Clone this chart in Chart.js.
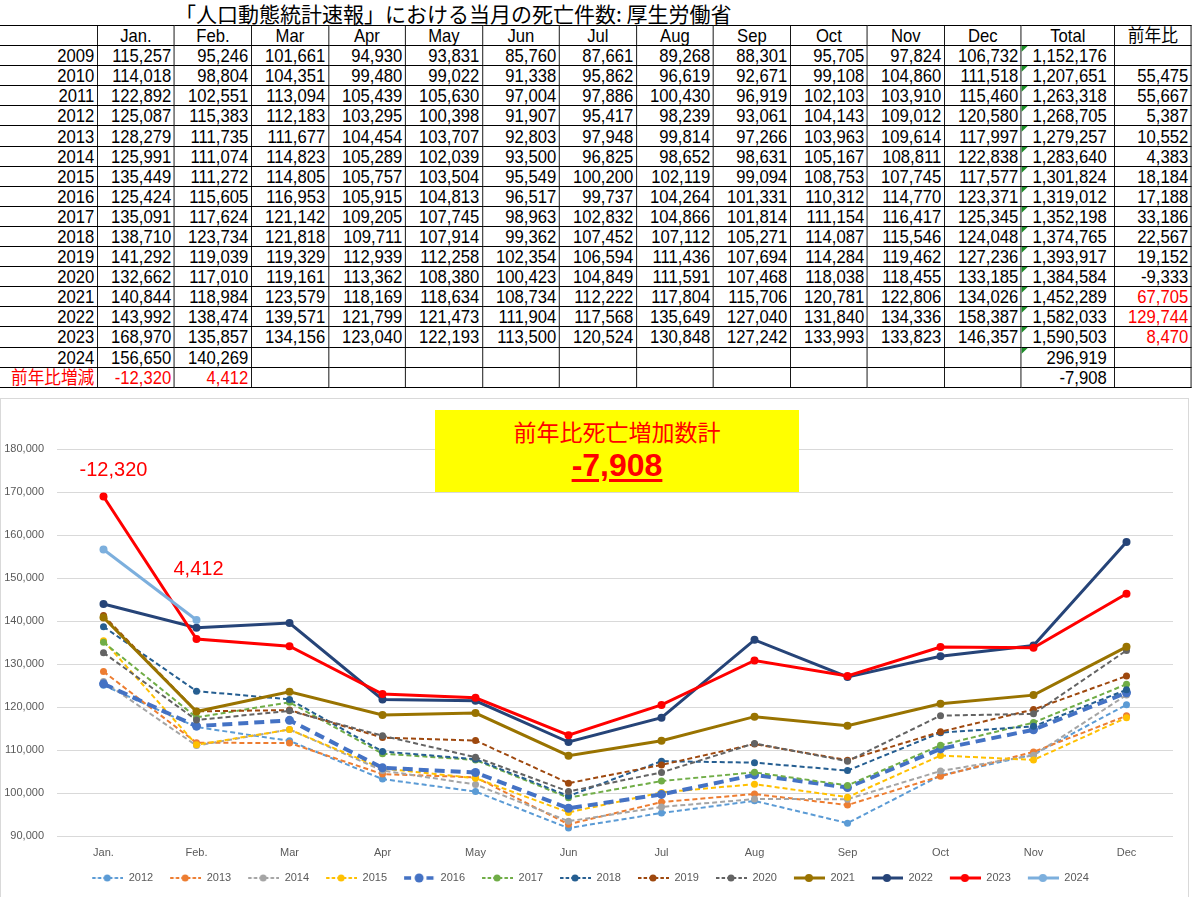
<!DOCTYPE html>
<html lang="ja">
<head>
<meta charset="utf-8">
<title>人口動態統計速報 死亡件数</title>
<script src="https://cdn.jsdelivr.net/npm/chart.js@4.4.1/dist/chart.umd.min.js"></script>
<style>
  html, body { margin: 0; padding: 0; background: #fff; }
  body { width: 1192px; height: 897px; position: relative; overflow: hidden;
         font-family: "Liberation Sans", Arial, "Noto Sans CJK JP", sans-serif; }
  #page-title { position: absolute; left: 175px; top: 1px; height: 24px; line-height: 24px;
                font-family: "Noto Sans CJK JP", sans-serif; font-size: 21px; white-space: nowrap; }
  /* the sheet text is a bit narrow: lay the table out wider and squeeze it horizontally */
  #deaths-table { position: absolute; left: -1px; top: 25px; border-collapse: collapse;
                  table-layout: fixed; font-size: 18.5px; transform: scaleX(0.9); transform-origin: 0 0; }
  #deaths-table td { border: 1px solid #000; height: 19.1px; line-height: 19px; padding: 0 3px;
                     text-align: right; white-space: nowrap; overflow: hidden; position: relative; }
  #deaths-table tr.head td { text-align: center; }
  #deaths-table td.total { padding-right: 8px; }
  #deaths-table td.red { color: #ff0000; }
  #deaths-table td.tri::before { content: ''; position: absolute; left: 0; top: 0;
                     border-top: 6px solid #1f8f2a; border-right: 7px solid transparent; }
  #chart-frame { position: absolute; left: 0; top: 398px; width: 1189px; height: 505px;
                 border: 1px solid #d9d9d9; box-sizing: border-box; }
  #chart-wrap { position: absolute; left: 0; top: 399px; width: 1190px; height: 498px; }
  #sum-box { position: absolute; left: 435px; top: 410px; width: 364px; height: 82px;
             background: #ffff00; color: #ff0000; text-align: center; z-index: 2; }
  #sum-box .cap { font-family: "Noto Sans CJK JP", sans-serif; font-size: 23px; line-height: 26px; margin-top: 8px; }
  #sum-box .num { font-size: 32px; font-weight: bold; line-height: 36px; margin-top: 3px;
                  text-decoration: underline; text-underline-offset: 3px; }
</style>
</head>
<body>
<div id="page-title">「人口動態統計速報」における当月の死亡件数: 厚生労働省</div>
<table id="deaths-table"></table>
<div id="chart-frame"></div>
<div id="chart-wrap"><canvas id="chart_deaths"></canvas></div>
<div id="sum-box"><div class="cap">前年比死亡増加数計</div><div class="num" id="sum-num"></div></div>
<script>
// month labels (table header and x axis)
const months = ['Jan.', 'Feb.', 'Mar', 'Apr', 'May', 'Jun', 'Jul', 'Aug', 'Sep', 'Oct', 'Nov', 'Dec'];

// monthly deaths per year
const d2009 = [115257, 95246, 101661, 94930, 93831, 85760, 87661, 89268, 88301, 95705, 97824, 106732];
const d2010 = [114018, 98804, 104351, 99480, 99022, 91338, 95862, 96619, 92671, 99108, 104860, 111518];
const d2011 = [122892, 102551, 113094, 105439, 105630, 97004, 97886, 100430, 96919, 102103, 103910, 115460];
const d2012 = [125087, 115383, 112183, 103295, 100398, 91907, 95417, 98239, 93061, 104143, 109012, 120580];
const d2013 = [128279, 111735, 111677, 104454, 103707, 92803, 97948, 99814, 97266, 103963, 109614, 117997];
const d2014 = [125991, 111074, 114823, 105289, 102039, 93500, 96825, 98652, 98631, 105167, 108811, 122838];
const d2015 = [135449, 111272, 114805, 105757, 103504, 95549, 100200, 102119, 99094, 108753, 107745, 117577];
const d2016 = [125424, 115605, 116953, 105915, 104813, 96517, 99737, 104264, 101331, 110312, 114770, 123371];
const d2017 = [135091, 117624, 121142, 109205, 107745, 98963, 102832, 104866, 101814, 111154, 116417, 125345];
const d2018 = [138710, 123734, 121818, 109711, 107914, 99362, 107452, 107112, 105271, 114087, 115546, 124048];
const d2019 = [141292, 119039, 119329, 112939, 112258, 102354, 106594, 111436, 107694, 114284, 119462, 127236];
const d2020 = [132662, 117010, 119161, 113362, 108380, 100423, 104849, 111591, 107468, 118038, 118455, 133185];
const d2021 = [140844, 118984, 123579, 118169, 118634, 108734, 112222, 117804, 115706, 120781, 122806, 134026];
const d2022 = [143992, 138474, 139571, 121799, 121473, 111904, 117568, 135649, 127040, 131840, 134336, 158387];
const d2023 = [168970, 135857, 134156, 123040, 122193, 113500, 120524, 130848, 127242, 133993, 133823, 146357];
const d2024 = [156650, 140269];

const years = [2009, 2010, 2011, 2012, 2013, 2014, 2015, 2016, 2017, 2018, 2019, 2020, 2021, 2022, 2023, 2024];
const yearRows = [d2009, d2010, d2011, d2012, d2013, d2014, d2015, d2016, d2017, d2018, d2019, d2020, d2021, d2022, d2023, d2024];

// yearly totals and change vs previous year, as printed
const totals = [1152176, 1207651, 1263318, 1268705, 1279257, 1283640, 1301824, 1319012, 1352198, 1374765, 1393917, 1384584, 1452289, 1582033, 1590503, 296919];
const yoyTotal = [null, 55475, 55667, 5387, 10552, 4383, 18184, 17188, 33186, 22567, 19152, -9333, 67705, 129744, 8470, null];
const yoyRed = [2021, 2022, 2023];

// 前年比増減 row: this year minus last year for the months so far
const monthDiff = [-12320, 4412];
const monthDiffTotal = -7908;

// years drawn in the chart
const chartYears = [2012, 2013, 2014, 2015, 2016, 2017, 2018, 2019, 2020, 2021, 2022, 2023, 2024];

const fmt = (v) => v.toLocaleString('en-US');

// ---- table ----
const SQUEEZE = 0.9;
const build_table = () => {
    const tbl = document.getElementById('deaths-table');
    const widths = [98].concat(months.map(() => 77)).concat([93, 77]);
    tbl.style.width = (widths.reduce((a, b) => a + b, 0) / SQUEEZE) + 'px';
    const cg = document.createElement('colgroup');
    widths.forEach(w => { const c = document.createElement('col'); c.style.width = (w / SQUEEZE) + 'px'; cg.appendChild(c); });
    tbl.appendChild(cg);

    const addRow = (cells, cls) => {
        const tr = document.createElement('tr');
        if (cls) tr.className = cls;
        cells.forEach(([txt, c]) => {
            const td = document.createElement('td');
            td.textContent = txt;
            if (c) td.className = c;
            tr.appendChild(td);
        });
        tbl.appendChild(tr);
    };

    addRow([['', '']].concat(months.map(m => [m, ''])).concat([['Total', ''], ['前年比', '']]), 'head');
    years.forEach((yr, i) => {
        const row = yearRows[i];
        const cells = [[String(yr), '']];
        months.forEach((m, j) => cells.push([row[j] !== undefined ? fmt(row[j]) : '', '']));
        cells.push([fmt(totals[i]), 'total tri']);
        const y = yoyTotal[i];
        cells.push([y === null ? '' : fmt(y), yoyRed.includes(yr) ? 'red' : '']);
        addRow(cells);
    });
    const last = [['前年比増減', 'red']];
    months.forEach((m, j) => last.push([monthDiff[j] !== undefined ? fmt(monthDiff[j]) : '', 'red']));
    last.push([fmt(monthDiffTotal), 'total']);
    last.push(['', '']);
    addRow(last);
};
build_table();
document.getElementById('sum-num').textContent = fmt(monthDiffTotal);

// ---- chart ----
const seriesColors = ['#5B9BD5', '#ED7D31', '#A5A5A5', '#FFC000', '#4472C4', '#70AD47', '#255E91',
                      '#9E480E', '#636363', '#997300', '#264478', '#FF0000', '#7CAFDD'];

const styleFor = (yr) => {
    if (yr === 2016) return { width: 4, dash: [10, 6], radius: 4.5 };
    if (yr <= 2020) return { width: 2, dash: [5, 3], radius: 3.5 };
    return { width: 3, dash: [], radius: 4 };
};

// legend swatch: line + marker on the right part of a wider canvas
// (the blank left part gives the spacing between legend items)
const SW = 45;
const legendSwatch = (color, st) => {
    const c = document.createElement('canvas');
    c.width = SW; c.height = 12;
    const g = c.getContext('2d');
    g.strokeStyle = color;
    g.lineWidth = Math.min(st.width, 3.5);
    g.setLineDash(st.dash.length ? [st.dash[0] * 0.7, st.dash[1] * 0.7] : []);
    g.beginPath(); g.moveTo(SW - 31, 6); g.lineTo(SW, 6); g.stroke();
    g.setLineDash([]);
    g.fillStyle = color;
    g.beginPath(); g.arc(SW - 16, 6, st.radius, 0, Math.PI * 2); g.fill();
    return c;
};

const datasets = chartYears.map((yr, i) => {
    const st = styleFor(yr);
    return {
        label: String(yr),
        data: yearRows[years.indexOf(yr)],
        borderColor: seriesColors[i],
        backgroundColor: seriesColors[i],
        borderWidth: st.width,
        borderDash: st.dash,
        pointRadius: st.radius,
        pointBackgroundColor: seriesColors[i],
        pointBorderColor: seriesColors[i],
        pointBorderWidth: 0,
        tension: 0,
        order: chartYears.length - 1 - i
    };
});
const swatches = chartYears.map((yr, i) => legendSwatch(seriesColors[i], styleFor(yr)));

// red notes with the change vs the previous year above Jan / Feb
const notePlugin = {
    id: 'yoyNotes',
    afterDatasetsDraw(chart, args, opts) {
        const { ctx, scales: { x, y } } = chart;
        ctx.save();
        ctx.font = '20px "Liberation Sans", Arial, sans-serif';
        ctx.fillStyle = '#FF0000';
        ctx.textAlign = 'center';
        ctx.textBaseline = 'middle';
        opts.notes.forEach(n => {
            ctx.fillText(fmt(n.value), x.getPixelForValue(n.index) + n.dx, y.getPixelForValue(n.at));
        });
        ctx.restore();
    }
};

// nudge the legend a few px left (its swatches carry blank space on the left)
const legendNudge = {
    id: 'legendNudge',
    afterLayout(chart) {
        if (chart.legend) { chart.legend.left -= 5; chart.legend.right -= 5; }
    }
};

const ctx = document.getElementById('chart_deaths').getContext('2d');
const chart = new Chart(ctx, {
    type: 'line',
    data: { labels: months, datasets: datasets },
    plugins: [notePlugin, legendNudge],
    options: {
        responsive: true,
        maintainAspectRatio: false,
        animation: false,
        layout: { padding: { top: 50, left: 4, right: 17, bottom: 3.5 } },
        scales: {
            x: {
                offset: true,
                grid: { display: false, drawTicks: false },
                border: { display: false },
                ticks: { color: '#595959', font: { size: 11 }, padding: 10 }
            },
            y: {
                min: 90000,
                max: 180000,
                grid: { color: '#d9d9d9', drawTicks: false },
                border: { display: false },
                ticks: { stepSize: 10000, color: '#595959', font: { size: 11 }, padding: 13,
                         callback: (v) => fmt(v) },
                afterFit: (scale) => { scale.width = 53; }
            }
        },
        plugins: {
            tooltip: { enabled: false },
            yoyNotes: {
                notes: [
                    { index: 0, value: monthDiff[0], at: 174900, dx: 10 },
                    { index: 1, value: monthDiff[1], at: 152100, dx: 2 }
                ]
            },
            legend: {
                position: 'bottom',
                labels: {
                    usePointStyle: true,
                    pointStyleWidth: SW,
                    color: '#595959',
                    font: { size: 11 },
                    padding: 3,
                    generateLabels: (ch) => ch.data.datasets.map((ds, i) => ({
                        text: ds.label,
                        pointStyle: swatches[i],
                        fillStyle: 'transparent',
                        strokeStyle: 'transparent',
                        lineWidth: 0,
                        fontColor: '#595959',
                        hidden: false,
                        datasetIndex: i
                    }))
                }
            }
        }
    }
});
</script>
</body>
</html>
